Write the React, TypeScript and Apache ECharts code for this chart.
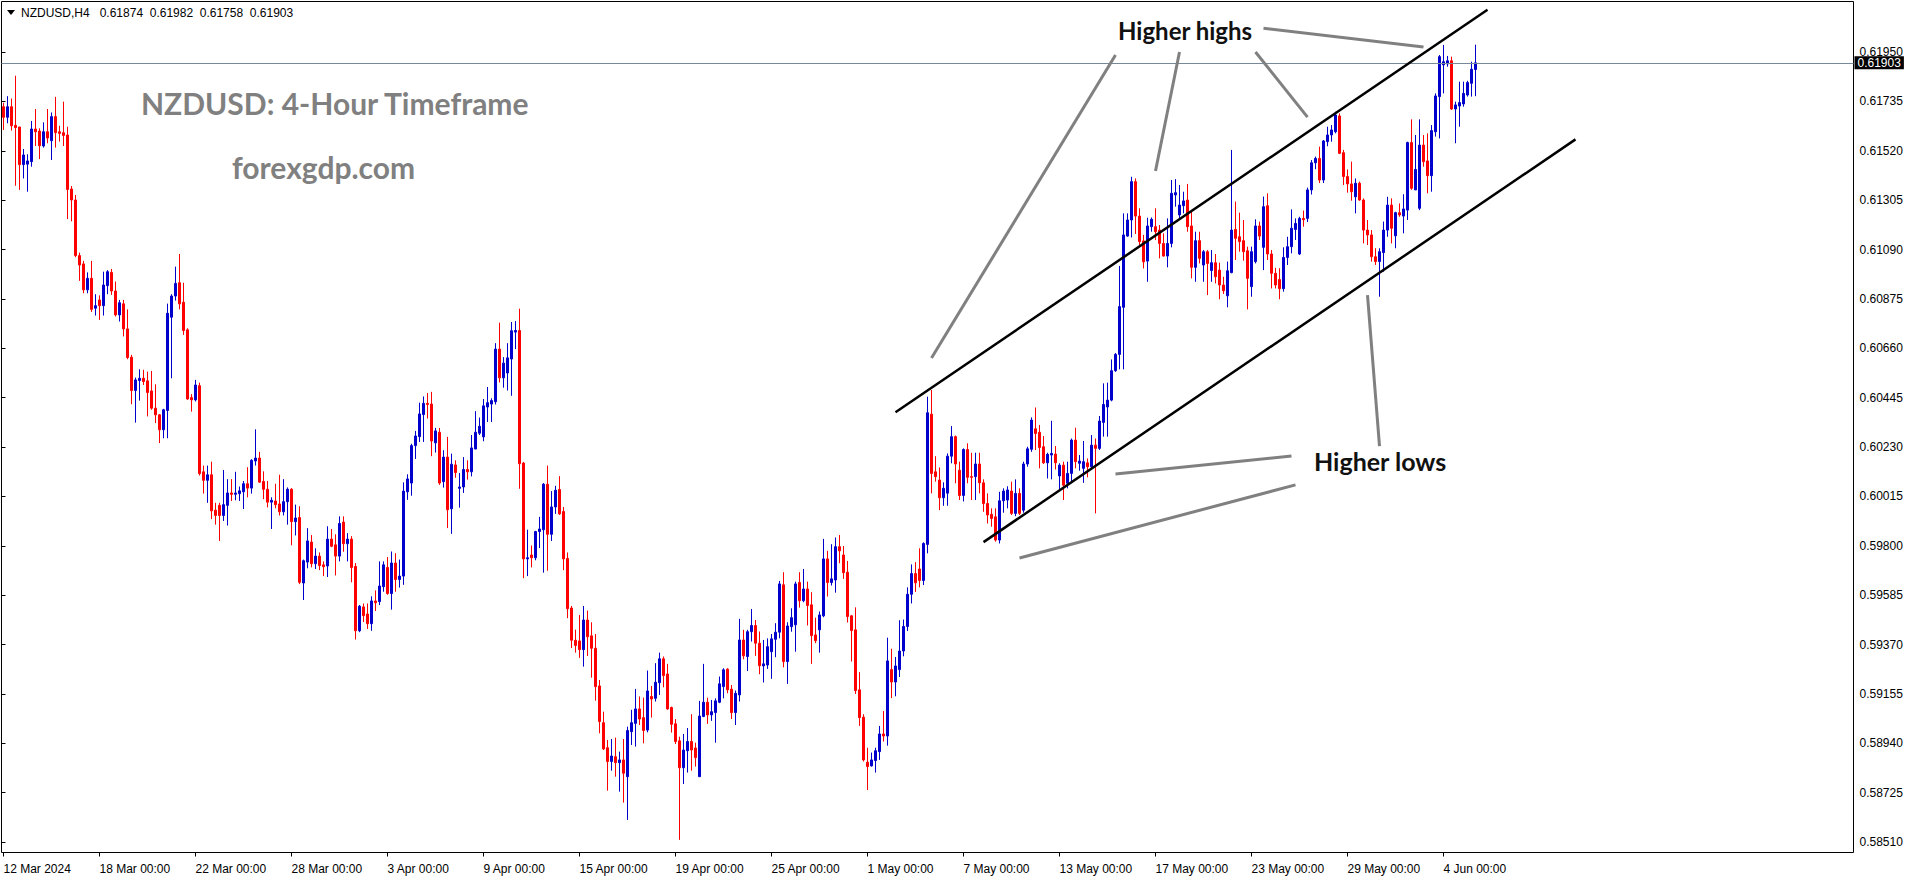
import React, { useEffect, useRef } from "react";
import * as echarts from "echarts";

const SYMBOL = "NZDUSD,H4";
const TITLE = "NZDUSD: 4-Hour Timeframe";
const SITE = "forexgdp.com";
const HIGHS_LABEL = "Higher highs";
const LOWS_LABEL = "Higher lows";

// 4-hour bars, [open, high, low, close], one array per trading week
const wkMar11: number[][] = [
  [0.61712,0.61729,0.61611,0.61666],[0.61666,0.61758,0.6164,0.61712],[0.61712,0.61748,0.61608,0.61629],[0.61631,0.61847,0.61368,0.61621],
  [0.61624,0.61624,0.6135,0.6146],[0.6146,0.61528,0.614,0.61502],[0.61462,0.61505,0.61342,0.61476],[0.61473,0.6165,0.61451,0.61615],
  [0.61615,0.61702,0.61541,0.61603],[0.61606,0.61618,0.61484,0.61542],[0.61541,0.61644,0.61534,0.61603],[0.61603,0.61702,0.61553,0.61576],
  [0.61564,0.61687,0.6148,0.61669],[0.61669,0.61755,0.61534,0.61599],[0.61603,0.61629,0.6156,0.61596],[0.61599,0.61734,0.61541,0.61587],
  [0.61589,0.61625,0.61223,0.61352],[0.61354,0.61367,0.61213,0.61306],[0.61306,0.61328,0.61057,0.61064],[0.61064,0.61077,0.60954,0.61023],
  [0.61028,0.61041,0.609,0.60915],[0.60915,0.60991,0.609,0.60965],[0.60965,0.61041,0.60819,0.6083],[0.60835,0.60896,0.60803,0.60846],
];
const wkMar18: number[][] = [
  [0.60871,0.60891,0.60784,0.60846],[0.60846,0.60994,0.60803,0.60936],[0.60933,0.61001,0.60896,0.60994],[0.60991,0.61006,0.60893,0.6091],
  [0.6091,0.60951,0.60799,0.60806],[0.60806,0.60871,0.60777,0.60859],[0.60854,0.60871,0.60712,0.60745],[0.60745,0.6083,0.60613,0.6062],
  [0.60622,0.60632,0.60417,0.60477],[0.60477,0.60533,0.60337,0.60523],[0.6052,0.60569,0.60433,0.6053],[0.6053,0.60567,0.60501,0.60516],
  [0.60519,0.60559,0.60364,0.60468],[0.60475,0.60562,0.60393,0.604],[0.604,0.60504,0.60335,0.60371],[0.60371,0.60374,0.60248,0.60306],
  [0.60306,0.60397,0.60269,0.60393],[0.6039,0.60855,0.60269,0.60813],[0.60796,0.60896,0.6053,0.60888],[0.60888,0.61016,0.60868,0.60943],
  [0.60946,0.61071,0.6083,0.60854],[0.60861,0.60946,0.60719,0.60738],[0.60741,0.60748,0.60436,0.6044],[0.60446,0.60461,0.60385,0.60436],
  [0.60436,0.60523,0.60429,0.60501],[0.60498,0.60511,0.60107,0.60115],[0.60123,0.6015,0.60028,0.60086],[0.60086,0.6015,0.59988,0.6011],
  [0.6011,0.60167,0.59917,0.59953],[0.59956,0.59988,0.59893,0.59933],
];
const wkMar25: number[][] = [
  [0.59977,0.59988,0.59822,0.59933],[0.59933,0.60131,0.59909,0.5998],[0.59977,0.60091,0.59889,0.60031],[0.60031,0.60091,0.59996,0.60025],
  [0.60025,0.60123,0.59999,0.60031],[0.60028,0.60059,0.59996,0.6004],[0.60036,0.60083,0.59961,0.60071],[0.60071,0.60143,0.60012,0.60052],
  [0.60052,0.60178,0.60028,0.60173],[0.6017,0.60308,0.6015,0.60183],[0.60183,0.6021,0.60075,0.60078],[0.60081,0.60125,0.60004,0.60047],
  [0.60047,0.60083,0.59968,0.59991],[0.59991,0.60012,0.59874,0.59999],[0.59996,0.60071,0.59964,0.5998],[0.59983,0.6011,0.59933,0.59949],
  [0.59949,0.60091,0.59933,0.59993],[0.59993,0.60055,0.59893,0.60047],[0.60047,0.60052,0.59803,0.59906],[0.59906,0.5998,0.59846,0.59922],
  [0.59924,0.59973,0.59634,0.59642],[0.59639,0.59741,0.59565,0.59736],[0.5973,0.59878,0.59703,0.59822],[0.59817,0.59848,0.59707,0.59723],
  [0.59723,0.5979,0.597,0.59756],[0.59756,0.59772,0.59695,0.59715],[0.59718,0.59733,0.59669,0.5971],[0.59713,0.59886,0.59665,0.5983],
  [0.5983,0.59874,0.59795,0.59799],[0.59805,0.59851,0.59672,0.59756],
];
const wkApr01: number[][] = [
  [0.59756,0.59929,0.59733,0.59898],[0.59904,0.59929,0.59775,0.5981],[0.5981,0.59856,0.59733,0.5983],[0.5983,0.59843,0.59642,0.59706],
  [0.59711,0.59726,0.59393,0.59431],[0.59431,0.59543,0.59425,0.59538],[0.59535,0.5955,0.59469,0.59497],[0.59504,0.5955,0.59439,0.59462],
  [0.59462,0.59581,0.59431,0.59561],[0.59561,0.59607,0.59517,0.59553],[0.59558,0.59733,0.59543,0.59626],[0.59623,0.59733,0.59601,0.59718],
  [0.59707,0.59752,0.59588,0.59593],[0.59593,0.59776,0.59523,0.59726],[0.59726,0.59769,0.59601,0.59654],[0.59654,0.59741,0.59619,0.59669],
  [0.59669,0.60077,0.59631,0.60039],[0.60036,0.60112,0.60001,0.60092],[0.60074,0.60245,0.60019,0.60237],[0.60237,0.60301,0.60179,0.60279],
  [0.60276,0.60424,0.60253,0.60375],[0.60372,0.60451,0.60253,0.60421],[0.60421,0.60466,0.60355,0.60416],[0.60418,0.60471,0.60191,0.60257],
  [0.60249,0.60314,0.60207,0.60301],[0.60295,0.60314,0.60066,0.60074],[0.6008,0.60217,0.60054,0.60187],[0.60187,0.60275,0.59878,0.59958],
  [0.59962,0.60202,0.59853,0.60156],[0.60153,0.60173,0.60097,0.6012],
];
const wkApr08: number[][] = [
  [0.60051,0.60118,0.59967,0.60057],[0.60057,0.60187,0.60031,0.60133],[0.60133,0.60173,0.60089,0.60123],[0.60123,0.60283,0.60103,0.60227],
  [0.60222,0.60387,0.60222,0.60295],[0.60291,0.60359,0.60283,0.60321],[0.60275,0.6044,0.60256,0.6041],[0.60405,0.60492,0.6034,0.60424],
  [0.60418,0.60443,0.6034,0.60433],[0.60428,0.60683,0.60416,0.60657],[0.60657,0.60772,0.60512,0.60532],[0.60532,0.60622,0.60489,0.60596],
  [0.60553,0.60683,0.60477,0.60619],[0.60614,0.60775,0.60454,0.60737],[0.60731,0.60779,0.60657,0.60738],[0.60738,0.60833,0.60049,0.60158],
  [0.60161,0.60166,0.5966,0.59744],[0.59744,0.59871,0.59669,0.59749],[0.59761,0.59802,0.59707,0.59749],[0.59749,0.59866,0.59738,0.59863],
  [0.59863,0.59927,0.59791,0.59874],[0.59871,0.60074,0.59684,0.60069],[0.60069,0.6015,0.59692,0.59851],[0.59851,0.60039,0.59822,0.5997],
  [0.5997,0.60062,0.5994,0.60043],[0.60046,0.60104,0.59935,0.5994],[0.5995,0.5997,0.59695,0.59744],[0.59746,0.59772,0.59486,0.59527],
  [0.5953,0.59539,0.59356,0.5939],[0.5939,0.59436,0.59336,0.59367],
];
const wkApr15: number[][] = [
  [0.59387,0.595,0.59313,0.59349],[0.59349,0.59539,0.59275,0.59478],[0.59478,0.59519,0.59321,0.59405],[0.59409,0.59468,0.59227,0.59355],
  [0.59355,0.59417,0.59127,0.59188],[0.59191,0.59217,0.58985,0.59036],[0.59031,0.59079,0.58912,0.58917],[0.58922,0.58956,0.58735,0.58862],
  [0.58862,0.5896,0.58822,0.58886],[0.58883,0.58966,0.58796,0.58857],[0.58857,0.58905,0.58731,0.58869],[0.58869,0.5896,0.58683,0.58811],
  [0.58796,0.59014,0.58608,0.58997],[0.58992,0.59087,0.58934,0.59031],[0.59028,0.59178,0.58927,0.59091],[0.59091,0.59145,0.59021,0.59047],
  [0.59053,0.5914,0.58941,0.58997],[0.58999,0.59258,0.58989,0.59169],[0.59145,0.59191,0.59053,0.59134],[0.59137,0.5929,0.59123,0.59207],
  [0.59205,0.59336,0.59152,0.59309],[0.59309,0.59319,0.59185,0.59236],[0.59243,0.59287,0.59087,0.59091],[0.59097,0.59101,0.58988,0.59024],
  [0.59026,0.59047,0.58938,0.58949],[0.58952,0.5897,0.58521,0.58835],[0.58835,0.58982,0.58764,0.58912],[0.58909,0.59008,0.58814,0.58949],
  [0.58949,0.59068,0.58822,0.58912],[0.58921,0.58944,0.5884,0.58879],
];
const wkApr22: number[][] = [
  [0.58796,0.59126,0.58796,0.5906],[0.59058,0.59287,0.59055,0.5912],[0.5912,0.5914,0.59026,0.59065],[0.59065,0.5913,0.59039,0.59079],
  [0.59075,0.59137,0.58944,0.59126],[0.5912,0.59232,0.59116,0.592],[0.59188,0.59268,0.59137,0.59261],[0.59264,0.59268,0.59159,0.59174],
  [0.59177,0.59195,0.59047,0.59075],[0.59075,0.59171,0.59021,0.59159],[0.59152,0.59483,0.59123,0.59391],[0.59391,0.59435,0.59307,0.59322],
  [0.59319,0.59435,0.59256,0.59427],[0.59427,0.59526,0.59384,0.59454],[0.59454,0.59478,0.59322,0.59377],[0.59377,0.59428,0.59242,0.59279],
  [0.59278,0.59391,0.59206,0.59287],[0.59282,0.59398,0.59265,0.59362],[0.5934,0.59417,0.59222,0.59396],[0.59394,0.59464,0.59316,0.59425],
  [0.59425,0.59648,0.59398,0.59635],[0.59631,0.59686,0.59272,0.59297],[0.59297,0.59468,0.592,0.59452],[0.59449,0.59529,0.59427,0.59488],
  [0.59457,0.59645,0.5934,0.59635],[0.59641,0.59686,0.59532,0.59562],[0.59562,0.597,0.59555,0.59613],[0.59613,0.59645,0.59454,0.59541],
  [0.59544,0.59599,0.59287,0.5941],[0.59413,0.59488,0.59377,0.59388],
];
const wkApr29: number[][] = [
  [0.59435,0.59515,0.59336,0.595],[0.59496,0.59831,0.5949,0.59744],[0.59744,0.59779,0.5958,0.59641],[0.59641,0.59808,0.59628,0.59657],
  [0.59652,0.59837,0.59597,0.59797],[0.59797,0.59848,0.59725,0.59779],[0.59761,0.598,0.59657,0.59684],[0.59686,0.59735,0.59467,0.59493],
  [0.59496,0.595,0.59297,0.59432],[0.59435,0.59533,0.59156,0.59171],[0.59174,0.59251,0.59017,0.59053],[0.59055,0.59068,0.58862,0.58869],
  [0.58859,0.58922,0.58738,0.5884],[0.58843,0.58901,0.5884,0.58869],[0.58866,0.58922,0.58814,0.58909],[0.58905,0.59017,0.58869,0.58982],
  [0.58982,0.59082,0.58949,0.58973],[0.58973,0.59401,0.58931,0.593],[0.59262,0.59353,0.59138,0.59208],[0.59208,0.59317,0.59146,0.59278],
  [0.59262,0.59477,0.5923,0.59343],[0.59343,0.5948,0.5932,0.5945],[0.5945,0.5962,0.5943,0.5959],[0.5959,0.5972,0.5955,0.5968],
  [0.5968,0.5973,0.596,0.5964],[0.597,0.5979,0.5962,0.5965],[0.5965,0.59816,0.5963,0.59811],[0.59807,0.6045,0.59768,0.6038],
  [0.60374,0.60479,0.60029,0.60116],[0.60123,0.60191,0.6008,0.60102],
];
const wkMay06: number[][] = [
  [0.60087,0.60142,0.59956,0.6001],[0.6001,0.60077,0.59975,0.60051],[0.6003,0.60203,0.59975,0.60191],[0.60191,0.60322,0.6016,0.60276],
  [0.60276,0.60281,0.60073,0.60157],[0.6013,0.60167,0.6,0.6002],[0.6002,0.60225,0.59994,0.6022],[0.6022,0.60247,0.60073,0.60099],
  [0.60102,0.60206,0.6,0.60099],[0.60102,0.60206,0.6,0.60157],[0.60157,0.60206,0.60029,0.60075],[0.60075,0.6009,0.59949,0.59985],
  [0.59985,0.60029,0.59898,0.59935],[0.59938,0.59964,0.59884,0.5992],[0.59927,0.59964,0.59819,0.59826],[0.59826,0.60036,0.59811,0.59997],
  [0.59997,0.60051,0.59945,0.60039],[0.6,0.6006,0.59964,0.60044],[0.60039,0.6008,0.59935,0.59942],[0.59942,0.6009,0.5993,0.60029],
  [0.60029,0.60051,0.59935,0.59942],[0.59956,0.60167,0.59945,0.60157],[0.60157,0.60232,0.60145,0.60223],[0.60221,0.6036,0.6021,0.60348],
  [0.6031,0.60403,0.60218,0.6029],[0.60295,0.60327,0.60138,0.60229],[0.60232,0.60279,0.60157,0.60162],[0.60162,0.60206,0.60094,0.60199],
  [0.60196,0.60345,0.6009,0.60203],[0.602,0.60235,0.60133,0.60162],
];
const wkMay13: number[][] = [
  [0.60105,0.6016,0.60047,0.60152],[0.60152,0.60167,0.6,0.60065],[0.60073,0.60167,0.60051,0.60116],[0.60116,0.60268,0.6008,0.60261],
  [0.60261,0.60315,0.60138,0.60167],[0.6016,0.60196,0.60128,0.6017],[0.60138,0.60257,0.60075,0.60167],[0.60162,0.60181,0.60099,0.60145],
  [0.60145,0.60283,0.60138,0.60239],[0.60239,0.60268,0.59942,0.60225],[0.60225,0.60366,0.60218,0.60344],[0.60338,0.60508,0.60276,0.60416],
  [0.60405,0.60511,0.60276,0.60435],[0.60435,0.60612,0.6043,0.60563],[0.60563,0.6064,0.60558,0.60634],[0.60634,0.61019,0.60569,0.60842],
  [0.60839,0.61248,0.60569,0.61154],[0.61149,0.61248,0.61146,0.61219],[0.61219,0.61407,0.61143,0.61386],[0.61386,0.614,0.61158,0.61236],
  [0.61236,0.6127,0.6111,0.61125],[0.61128,0.61154,0.61008,0.61037],[0.6104,0.61229,0.6095,0.61193],[0.6119,0.6123,0.61168,0.61222],
  [0.6119,0.6127,0.61132,0.61168],[0.61175,0.61197,0.61052,0.61117],[0.61117,0.61161,0.6106,0.61062],[0.61062,0.61226,0.61013,0.61117],
  [0.61117,0.61393,0.611,0.61335],[0.61328,0.61397,0.61277,0.61338],
];
const wkMay20: number[][] = [
  [0.61241,0.61371,0.61226,0.61284],[0.61281,0.61342,0.61248,0.61302],[0.61306,0.61376,0.61168,0.6119],[0.61193,0.61262,0.60965,0.61013],
  [0.61013,0.61168,0.6095,0.61129],[0.61129,0.61168,0.6103,0.61052],[0.61023,0.61088,0.6095,0.61081],[0.61081,0.61088,0.60892,0.6103],
  [0.60999,0.61088,0.6095,0.61033],[0.61033,0.61071,0.60943,0.60972],[0.61001,0.61033,0.60874,0.60936],[0.60936,0.60972,0.60897,0.60911],
  [0.60889,0.61038,0.60839,0.60998],[0.6099,0.61524,0.60987,0.61175],[0.61178,0.61299,0.61045,0.61139],[0.61146,0.61251,0.61081,0.61125],
  [0.61129,0.61219,0.61042,0.61081],[0.61085,0.61103,0.6083,0.60965],[0.60929,0.61103,0.60885,0.61081],[0.61038,0.61222,0.6103,0.61193],
  [0.61193,0.61212,0.61132,0.61149],[0.611,0.61321,0.61001,0.61277],[0.61281,0.61335,0.61045,0.61071],[0.61071,0.61088,0.60921,0.60987],
  [0.60987,0.61011,0.60921,0.60936],[0.6096,0.61009,0.60874,0.6092],[0.6092,0.611,0.60907,0.61056],[0.61056,0.61146,0.61023,0.61103],
  [0.61103,0.61265,0.61074,0.61183],[0.61178,0.61226,0.61132,0.61204],
];
const wkMay27: number[][] = [
  [0.61071,0.61233,0.61067,0.61226],[0.61226,0.6126,0.6119,0.6122],[0.61226,0.6136,0.6121,0.6135],[0.6135,0.6148,0.6133,0.61468],
  [0.61468,0.61495,0.6144,0.61487],[0.61487,0.61538,0.6138,0.61393],[0.61393,0.61567,0.6138,0.61563],[0.6156,0.61625,0.6154,0.61589],
  [0.61589,0.61632,0.6156,0.61611],[0.61603,0.6169,0.61596,0.61676],[0.61672,0.61683,0.61506,0.61509],[0.61512,0.61524,0.61371,0.61408],
  [0.61408,0.61439,0.61338,0.61376],[0.61376,0.61473,0.61303,0.61342],[0.6132,0.614,0.61248,0.61379],[0.61379,0.61386,0.61303,0.61306],
  [0.61306,0.61313,0.61117,0.61175],[0.61175,0.61219,0.6111,0.61154],[0.61154,0.61175,0.61038,0.61059],[0.61059,0.61096,0.61023,0.61038],
  [0.61038,0.61096,0.60885,0.61081],[0.61077,0.61212,0.60994,0.61175],[0.61175,0.6132,0.61146,0.61284],[0.61284,0.61313,0.61117,0.61183],
  [0.6115,0.61255,0.61096,0.61251],[0.61251,0.61291,0.61233,0.61241],[0.61236,0.61331,0.61161,0.61267],[0.61262,0.6156,0.61219,0.61556],
  [0.61556,0.61657,0.6135,0.61357],[0.6135,0.61589,0.6135,0.61439],
];
const wkJun03: number[][] = [
  [0.6127,0.61657,0.61262,0.61545],[0.61545,0.61589,0.61451,0.61473],[0.61476,0.61596,0.61335,0.61412],[0.61412,0.61632,0.61342,0.61608],
  [0.61603,0.6177,0.61582,0.61759],[0.61756,0.61937,0.61574,0.6193],[0.61894,0.61981,0.6177,0.61908],[0.61898,0.61933,0.61886,0.61912],
  [0.61912,0.6193,0.61698,0.61702],[0.61702,0.61734,0.61553,0.6172],[0.61715,0.61821,0.61625,0.6173],[0.61724,0.61821,0.61712,0.6177],
  [0.61763,0.61825,0.61756,0.61817],[0.61814,0.61908,0.61756,0.61875],[0.61874,0.61982,0.61758,0.61903],
];
const weeks = [wkMar11, wkMar18, wkMar25, wkApr01, wkApr08, wkApr15, wkApr22, wkApr29, wkMay06, wkMay13, wkMay20, wkMay27, wkJun03];

// time axis: one label every 24 bars (4 trading days)
const xTickLabels = [
  "12 Mar 2024", "18 Mar 00:00", "22 Mar 00:00", "28 Mar 00:00", "3 Apr 00:00", "9 Apr 00:00",
  "15 Apr 00:00", "19 Apr 00:00", "25 Apr 00:00", "1 May 00:00", "7 May 00:00", "13 May 00:00",
  "17 May 00:00", "23 May 00:00", "29 May 00:00", "4 Jun 00:00",
];
const BARS_PER_TICK = 24;
const SLOT_COUNT = 463; // bar slots incl. the empty right-hand shift

// price axis
const yTickFirst = 0.5851;
const yTickStep = 0.00215;
const yTickSteps = 16;
const yMin = 0.58466;
const yMax = 0.6217;

// annotations in [bar index, price]
const upperChannel = [[223, 0.60382], [371, 0.62134]];
const lowerChannel = [[245, 0.59817], [393, 0.6157]];
const highPointers = [
  [[278, 0.61937], [232, 0.60618]],
  [[294, 0.6195], [288, 0.61432]],
  [[313, 0.6195], [326, 0.61667]],
  [[315, 0.62054], [355, 0.61972]],
];
const lowPointers = [
  [[322, 0.60192], [278, 0.60113]],
  [[323, 0.60066], [254, 0.59748]],
  [[344, 0.60235], [341, 0.60892]],
];

const BULL = "#0000cd";
const BEAR = "#ff0000";
const AXIS_FONT = "'Liberation Sans', Arial, sans-serif";
const NOTE_FONT = "Lato, 'Open Sans', sans-serif";

export default function App() {
  const ref = useRef<HTMLDivElement>(null);

  useEffect(() => {
    const el = ref.current;
    if (!el) return;
    const chart = echarts.init(el, null, { renderer: "svg" });

    const bars = weeks.flat();
    const candles = bars.map(([o, h, l, c]) => [o, c, l, h]);
    const last = bars[bars.length - 1];
    const cats = Array.from({ length: SLOT_COUNT }, (_, i) => String(i));
    const isTick = (i: number) => i % BARS_PER_TICK === 0 && i / BARS_PER_TICK < xTickLabels.length;

    const seg = (pts: number[][], color: string, width: number) => [
      { coord: pts[0], lineStyle: { color, width, type: "solid" }, label: { show: false } },
      { coord: pts[1] },
    ];

    const textStyle = (text: string, fill: string, fontSize: number, bold: boolean, fontFamily: string) => ({
      text, fill, fontSize, fontWeight: bold ? "bold" : "normal", fontFamily,
      align: "left", verticalAlign: "middle", textAlign: "left", textVerticalAlign: "middle",
    });

    const option: any = {
      animation: false,
      backgroundColor: "#ffffff",
      grid: [
        { left: 1.5, top: 1.5, width: 1852, height: 851, show: true, borderColor: "#000", borderWidth: 1, backgroundColor: "#fff" },
        { left: 1.5, top: 52, width: 1852, height: 790, show: false },
      ],
      xAxis: [
        {
          type: "category",
          gridIndex: 0,
          data: cats,
          boundaryGap: true,
          axisLine: { show: false },
          axisTick: { show: true, interval: (i: number) => isTick(i), alignWithLabel: true, length: 4, lineStyle: { color: "#000" } },
          axisLabel: {
            show: true,
            interval: (i: number) => isTick(i),
            formatter: (_v: string, i: number) => xTickLabels[i / BARS_PER_TICK] ?? "",
            align: "left",
            color: "#000",
            fontSize: 12,
            fontFamily: AXIS_FONT,
            margin: 10,
          },
          splitLine: { show: false },
        },
        { type: "value", gridIndex: 1, show: false, min: 0, max: 1 },
      ],
      yAxis: [
        { type: "value", gridIndex: 0, min: yMin, max: yMax, show: false },
        {
          type: "value",
          gridIndex: 1,
          position: "right",
          min: 0,
          max: yTickSteps,
          interval: 1,
          axisLine: { show: false },
          axisTick: { show: true, length: 4, lineStyle: { color: "#000" } },
          axisLabel: {
            formatter: (v: number) => (yTickFirst + v * yTickStep).toFixed(5),
            color: "#000",
            fontSize: 12,
            fontFamily: AXIS_FONT,
            margin: 6,
          },
          splitLine: { show: false },
        },
      ],
      series: [
        {
          type: "candlestick",
          xAxisIndex: 0,
          yAxisIndex: 0,
          data: candles,
          barWidth: 2,
          itemStyle: { color: BULL, color0: BEAR, borderColor: BULL, borderColor0: BEAR, borderWidth: 1 },
          markLine: {
            silent: true,
            animation: false,
            precision: 5,
            symbol: ["none", "none"],
            data: [
              {
                yAxis: last[3],
                lineStyle: { color: "#778899", width: 1, type: "solid" },
                label: {
                  show: true,
                  position: "end",
                  formatter: last[3].toFixed(5),
                  color: "#fff",
                  backgroundColor: "#000",
                  padding: [1, 3, 0, 3],
                  fontSize: 12,
                  fontFamily: AXIS_FONT,
                  distance: 1,
                },
              },
              seg(upperChannel, "#000", 2.5),
              seg(lowerChannel, "#000", 2.5),
              ...highPointers.map((p) => seg(p, "#808080", 3)),
              ...lowPointers.map((p) => seg(p, "#808080", 3)),
            ],
          },
        },
      ],
      graphic: [
        { type: "polygon", shape: { points: [[7, 10], [15, 10], [11, 15]] }, style: { fill: "#000" }, z: 100 },
        {
          type: "text", x: 21, y: 12.5, z: 100,
          style: textStyle(`${SYMBOL}   ${last.map((v) => v.toFixed(5)).join("  ")}`, "#000", 12, false, AXIS_FONT),
        },
        { type: "text", x: 141, y: 103, z: 100, style: textStyle(TITLE, "#808080", 30, true, NOTE_FONT) },
        { type: "text", x: 232, y: 167, z: 100, style: textStyle(SITE, "#808080", 30, true, NOTE_FONT) },
        { type: "text", x: 1118, y: 30, z: 100, style: textStyle(HIGHS_LABEL, "#111", 24, true, NOTE_FONT) },
        { type: "text", x: 1314, y: 461, z: 100, style: textStyle(LOWS_LABEL, "#111", 25, true, NOTE_FONT) },
      ],
    };

    chart.setOption(option);
    return () => chart.dispose();
  }, []);

  return (
    <div
      ref={ref}
      style={{ position: "fixed", left: 0, top: 0, width: 1916, height: 884, background: "#fff" }}
    />
  );
}
